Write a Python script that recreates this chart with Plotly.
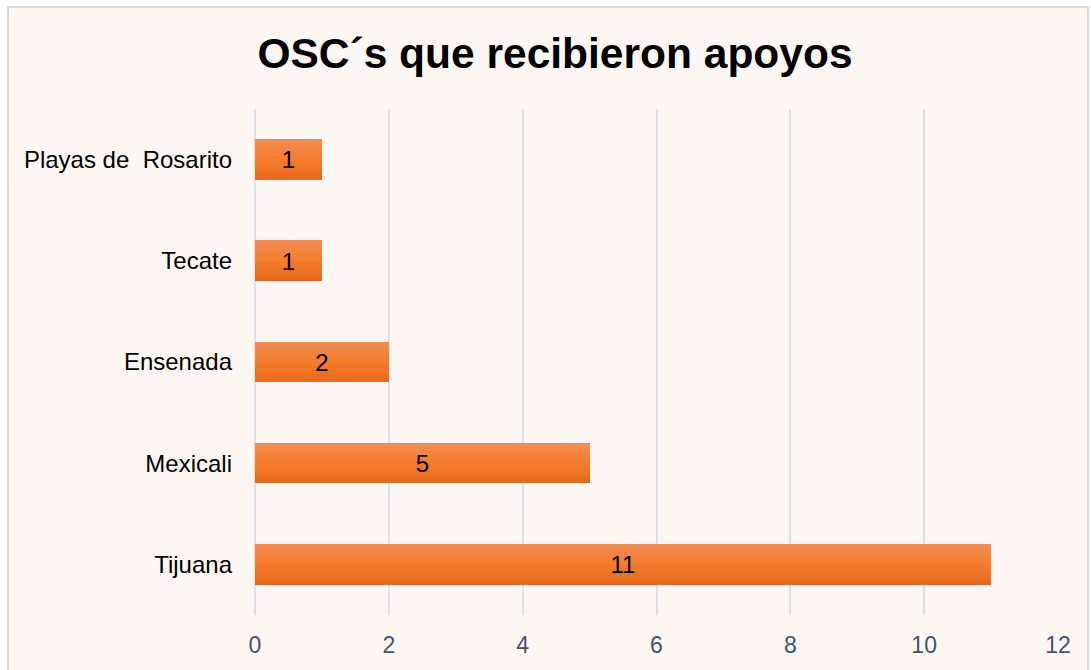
import plotly.graph_objects as go

title = "OSC´s que recibieron apoyos"
categories = ["Tijuana", "Mexicali", "Ensenada", "Tecate", "Playas de  Rosarito"]
values = [11, 5, 2, 1, 1]
x_ticks = [0, 2, 4, 6, 8, 10, 12]

FONT = "Liberation Sans, Arial, sans-serif"
BAR_W = 0.4
N_BANDS = 10

def hex2rgb(h):
    h = h.lstrip("#")
    return [int(h[i:i + 2], 16) for i in (0, 2, 4)]

def lerp(c1, c2, t):
    a, b = hex2rgb(c1), hex2rgb(c2)
    return "rgb(%d,%d,%d)" % tuple(round(a[i] + (b[i] - a[i]) * t) for i in range(3))

top_c, mid_c, bot_c = "#F28D55", "#F57E30", "#E6681A"

fig = go.Figure()
band_w = BAR_W / N_BANDS
for i in range(N_BANDS):
    t = (i + 0.5) / N_BANDS  # 0 = bottom, 1 = top
    if t >= 0.55:
        col = lerp(mid_c, top_c, (t - 0.55) / 0.45)
    else:
        col = lerp(bot_c, mid_c, t / 0.55)
    fig.add_trace(go.Bar(
        y=categories, x=values, orientation="h",
        width=band_w * 1.02, offset=-BAR_W / 2 + i * band_w,
        marker=dict(color=col, line=dict(width=0)),
        hoverinfo="skip", showlegend=False,
    ))

fig.add_trace(go.Bar(
    y=categories, x=values, orientation="h",
    width=BAR_W, offset=-BAR_W / 2,
    marker=dict(color="rgba(0,0,0,0)", line=dict(width=0)),
    text=[str(v) for v in values], textposition="inside",
    insidetextanchor="middle",
    textfont=dict(family=FONT, size=24, color="#000000"),
    showlegend=False,
))

L, R, T, B = 255, 33, 109, 55
W, H = 1091, 670
pw, ph = W - L - R, H - T - B

def px_x(p):
    return (p - L) / pw

def px_y(p):
    return (H - B - p) / ph

fig.add_shape(type="rect", xref="paper", yref="paper",
              x0=px_x(8), x1=px_x(1088), y0=px_y(680), y1=px_y(7),
              fillcolor="#FCF7F3", line=dict(color="#D9D9D9", width=2),
              layer="below")

fig.update_layout(
    width=W, height=H,
    margin=dict(l=L, r=R, t=T, b=B),
    paper_bgcolor="#FFFFFF",
    plot_bgcolor="rgba(0,0,0,0)",
    barmode="overlay",
    bargap=0,
    title=dict(text="<b>" + title + "</b>", x=555 / W, xref="container", xanchor="center",
               y=1 - 53 / H, yanchor="middle",
               font=dict(family=FONT, size=42.5, color="#000000")),
    xaxis=dict(range=[0, 12], tickvals=x_ticks, showgrid=True,
               gridcolor="#DDE2EA", gridwidth=1.5, zeroline=True,
               zerolinecolor="#DDE2EA", zerolinewidth=1.5,
               showline=False, ticks="", ticklabelstandoff=14,
               tickfont=dict(family=FONT, size=23, color="#44546A")),
    yaxis=dict(categoryorder="array", categoryarray=categories,
               showgrid=False, showline=False, ticks="", ticklabelstandoff=22,
               tickfont=dict(family=FONT, size=24, color="#000000")),
)

fig.write_html("out.html", config={"displayModeBar": False},
               post_script="document.body.style.margin='0';document.body.style.overflow='hidden';")
